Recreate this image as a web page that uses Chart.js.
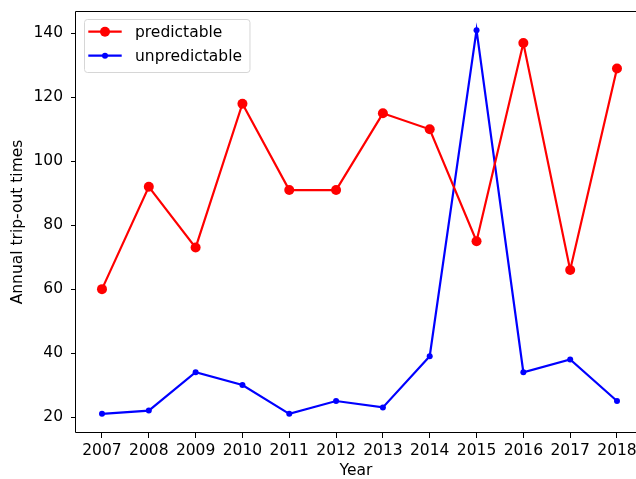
<!DOCTYPE html>
<html>
<head>
<meta charset="utf-8">
<script src="https://cdn.jsdelivr.net/npm/chart.js@4.4.0/dist/chart.umd.min.js"></script>
<style>
  html, body { margin: 0; padding: 0; background: #fff; overflow: hidden; }
  #wrap { width: 636px; height: 479px; position: relative; }
</style>
</head>
<body>
<div id="wrap"><canvas id="c" width="636" height="479"></canvas></div>
<script>
// Annual trip-out counts per year
const years = [2007, 2008, 2009, 2010, 2011, 2012, 2013, 2014, 2015, 2016, 2017, 2018];
const predictable = [60, 92, 73, 118, 91, 91, 115, 110, 75, 137, 66, 129];
const unpredictable = [21, 22, 34, 30, 21, 25, 23, 39, 141, 34, 38, 25];
const yTicks = [20, 40, 60, 80, 100, 120, 140];

const FONT = { family: '"DejaVu Sans", sans-serif', size: 15.5 };
const INK = '#000';

const toPoints = vals => years.map((y, i) => ({ x: y, y: vals[i] }));

// Black box around the plotting area (the right side falls past the canvas edge)
const frame = {
  id: 'frame',
  afterDatasetsDraw(chart) {
    const { ctx, chartArea: a } = chart;
    ctx.save();
    ctx.strokeStyle = INK;
    ctx.lineWidth = 1;
    ctx.beginPath();
    ctx.moveTo(a.left - 0.5, a.top + 0.5);
    ctx.lineTo(a.right + 0.5, a.top + 0.5);
    ctx.moveTo(a.left - 0.5, a.top + 0.5);
    ctx.lineTo(a.left - 0.5, a.bottom - 0.5);
    ctx.lineTo(a.right + 0.5, a.bottom - 0.5);
    ctx.lineTo(a.right + 0.5, a.top + 0.5);
    ctx.stroke();
    ctx.restore();
  }
};

// Legend in the upper-left corner: line sample with marker, then the label
const legendBox = {
  id: 'legendBox',
  afterDraw(chart) {
    const { ctx, chartArea: a } = chart;
    const sets = chart.data.datasets;
    ctx.save();
    ctx.font = FONT.size + 'px ' + FONT.family;
    const textX = a.left + 59;
    const maxW = Math.max(...sets.map(d => ctx.measureText(d.label).width));
    const x0 = a.left + 8.5, y0 = a.top + 8.5;
    const w = textX + maxW + 8 - x0, h = 53;
    ctx.beginPath();
    ctx.roundRect(x0, y0, w, h, 3);
    ctx.fillStyle = 'rgba(255,255,255,0.8)';
    ctx.fill();
    ctx.strokeStyle = '#d6d6d6';
    ctx.lineWidth = 1;
    ctx.stroke();
    sets.forEach((d, i) => {
      const cy = a.top + 20.7 + i * 24;
      ctx.strokeStyle = d.borderColor;
      ctx.lineWidth = d.borderWidth;
      ctx.beginPath();
      ctx.moveTo(a.left + 12.3, cy);
      ctx.lineTo(a.left + 45.7, cy);
      ctx.stroke();
      ctx.fillStyle = d.backgroundColor;
      ctx.beginPath();
      ctx.arc(a.left + 29, cy, d.pointRadius, 0, Math.PI * 2);
      ctx.fill();
      ctx.fillStyle = INK;
      ctx.textBaseline = 'middle';
      ctx.textAlign = 'left';
      ctx.fillText(d.label, textX, cy + 1);
    });
    ctx.restore();
  }
};

new Chart(document.getElementById('c'), {
  type: 'line',
  data: {
    datasets: [
      {
        label: 'predictable',
        data: toPoints(predictable),
        borderColor: '#ff0000',
        backgroundColor: '#ff0000',
        borderWidth: 2.2,
        pointRadius: 5,
        pointBorderWidth: 0,
        tension: 0
      },
      {
        label: 'unpredictable',
        data: toPoints(unpredictable),
        borderColor: '#0000ff',
        backgroundColor: '#0000ff',
        borderWidth: 2.2,
        pointRadius: 3,
        pointBorderWidth: 0,
        tension: 0
      }
    ]
  },
  options: {
    responsive: false,
    animation: false,
    devicePixelRatio: 1,
    layout: { autoPadding: false, padding: { left: 0, top: 11, right: 0, bottom: 0 } },
    plugins: { legend: { display: false }, tooltip: { enabled: false } },
    scales: {
      x: {
        type: 'linear',
        min: 2006.445,
        max: 2018.406,
        afterBuildTicks: s => { s.ticks = years.map(v => ({ value: v })); },
        afterFit: s => { s.height = 46; s.paddingLeft = 0; s.paddingRight = 0; },
        border: { display: false },
        grid: { drawOnChartArea: false, drawTicks: true, tickLength: 5, color: INK, lineWidth: 1 },
        ticks: { callback: v => String(v), autoSkip: false, maxRotation: 0, padding: 4, font: FONT, color: INK },
        title: { display: true, text: 'Year', font: { ...FONT, lineHeight: 1 }, color: INK, padding: { top: 0, bottom: 0 } }
      },
      y: {
        min: 15,
        max: 147,
        afterBuildTicks: s => { s.ticks = yTicks.map(v => ({ value: v })); },
        afterFit: s => { s.width = 76; s.paddingTop = 0; s.paddingBottom = 0; },
        border: { display: false },
        grid: { drawOnChartArea: false, drawTicks: true, tickLength: 5, color: INK, lineWidth: 1 },
        ticks: { padding: 8, font: FONT, color: INK },
        title: { display: true, text: 'Annual trip-out times', font: FONT, color: INK, padding: { top: 9, bottom: 0 } }
      }
    }
  },
  plugins: [frame, legendBox]
});
</script>
</body>
</html>
